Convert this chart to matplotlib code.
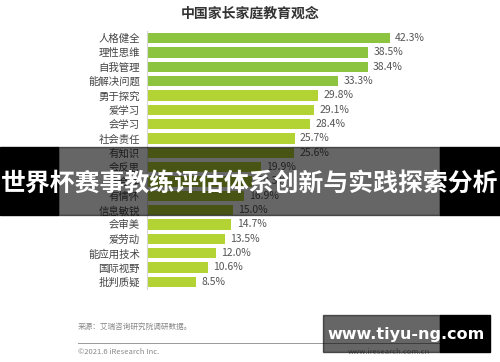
import matplotlib.pyplot as plt
from matplotlib.patches import Rectangle

plt.rcParams['font.family'] = ['Noto Sans CJK SC', 'DejaVu Sans']

# --- data ---
categories = ['人格健全', '理性思维', '自我管理', '能解决问题', '勇于探究', '爱学习',
              '会学习', '社会责任', '有知识', '会反思', '会合作', '有情怀',
              '信息敏锐', '会审美', '爱劳动', '能应用技术', '国际视野', '批判质疑']
values = [42.3, 38.5, 38.4, 33.3, 29.8, 29.1, 28.4, 25.7, 25.6, 19.9, 18.3, 16.9,
          15.0, 14.7, 13.5, 12.0, 10.6, 8.5]
labels = ['%.1f%%' % v for v in values]

W, H = 500, 362
fig = plt.figure(figsize=(W / 100, H / 100), dpi=100, facecolor='white')

def fx(px): return px / W
def fy(py): return 1 - py / H

# axes: left edge at x=147, bars from y=31 to y=289
ax = fig.add_axes([fx(147), fy(289), fx(490) - fx(147), fy(31) - fy(289)])
colors = ['#8cc43f'] * 4 + ['#b3d234'] * (len(values) - 4)
ax.barh(range(len(values)), values, height=0.72, color=colors)
ax.set_ylim(len(values) - 0.5, -0.5)
ax.set_xlim(0, (490 - 147) / ((390 - 147) / 42.3))
ax.set_yticks(range(len(values)))
ax.set_yticklabels(categories, fontsize=7.5, color='#444')
ax.set_xticks([])
ax.tick_params(axis='y', length=0, pad=5)
for s in ['top', 'right', 'bottom']:
    ax.spines[s].set_visible(False)
ax.spines['left'].set_color('#d8d8d8')
for i, v in enumerate(values):
    ax.text(v + 0.9, i, labels[i], va='center', ha='left', fontsize=7.5, color='#555')

fig.text(0.5, fy(14), '中国家长家庭教育观念', ha='center', va='center',
         fontsize=10, fontweight='bold', color='#333')

# footer
fig.text(fx(78), fy(327), '来源：艾瑞咨询研究院调研数据。', ha='left', va='center',
         fontsize=5.5, color='#888')
fig.add_artist(plt.Line2D([fx(78), fx(440)], [fy(343), fy(343)], color='#999', lw=0.7))
fig.text(fx(78), fy(352), '©2021.6 iResearch Inc.', ha='left', va='center',
         fontsize=5.5, color='#888')
fig.text(fx(430), fy(352), 'www.iresearch.com.cn', ha='right', va='center',
         fontsize=5.5, color='#888')

# overlay band
fig.patches.append(Rectangle((0, fy(215)), fx(58), fy(147) - fy(215),
                             transform=fig.transFigure, color='black', zorder=10))
fig.patches.append(Rectangle((fx(440), fy(215)), 1 - fx(440), fy(147) - fy(215),
                             transform=fig.transFigure, color='black', zorder=10))
fig.patches.append(Rectangle((fx(58), fy(215)), fx(440) - fx(58), fy(147) - fy(215),
                             transform=fig.transFigure, color='black', alpha=0.6, zorder=10))
fig.text(0.5, fy(184), '世界杯赛事教练评估体系创新与实践探索分析', ha='center', va='center',
         fontsize=17.9, fontweight='bold', color='white', zorder=11)

# watermark box
fig.patches.append(Rectangle((fx(323), fy(352)), fx(440) - fx(323), fy(315) - fy(352),
                             transform=fig.transFigure, color='black', alpha=0.6, zorder=10))
fig.patches.append(Rectangle((fx(440), fy(352)), fx(490) - fx(440), fy(315) - fy(352),
                             transform=fig.transFigure, color='black', zorder=10))
fig.text(fx(406), fy(334), 'www.tiyu-ng.com', ha='center', va='center',
         fontsize=11.5, fontweight='bold', color='white', zorder=11, family='DejaVu Sans')

fig.savefig('out.png', dpi=100, facecolor='white')
